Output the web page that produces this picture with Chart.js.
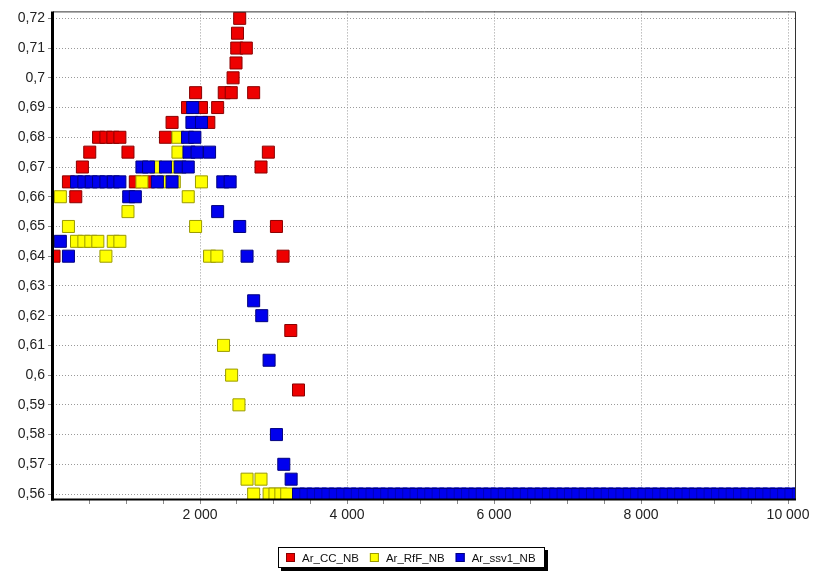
<!DOCTYPE html>
<html><head><meta charset="utf-8">
<script src="https://cdn.jsdelivr.net/npm/chart.js@4/dist/chart.umd.min.js"></script>
<style>html,body{margin:0;padding:0;background:#fff}#wrap{width:813px;height:574px;position:relative}</style>
</head><body><div id="wrap"><canvas id="c" width="813" height="574"></canvas></div>
<script>
const seriesNames = ['Ar_CC_NB', 'Ar_RfF_NB', 'Ar_ssv1_NB'];
const yTickValues = [0.56,0.57,0.58,0.59,0.60,0.61,0.62,0.63,0.64,0.65,0.66,0.67,0.68,0.69,0.70,0.71,0.72];
const xTickValues = [500,1000,1500,2000,2500,3000,3500,4000,4500,5000,5500,6000,6500,7000,7500,8000,8500,9000,9500,10000];
const xLabelValues = [2000,4000,6000,8000,10000];

const ccPoints = [
  [2540,0.72],[2510,0.715],[2500,0.71],[2630,0.71],[2490,0.705],[2450,0.70],
  [1940,0.695],[2330,0.695],[2425,0.695],[2730,0.695],
  [1830,0.69],[2020,0.69],[2240,0.69],
  [1620,0.685],[2120,0.685],
  [620,0.68],[720,0.68],[815,0.68],[910,0.68],[1530,0.68],
  [500,0.675],[1020,0.675],[2930,0.675],
  [400,0.67],[2830,0.67],
  [210,0.665],[1120,0.665],[1300,0.665],
  [310,0.66],[3040,0.65],[14,0.64],[3130,0.64],
  [3235,0.615],[3340,0.595]
];
const rffPoints = [
  [1700,0.68],[1700,0.675],[1400,0.67],[1680,0.67],
  [1210,0.665],[1500,0.665],[1650,0.665],[2020,0.665],
  [100,0.66],[1840,0.66],[1020,0.655],[210,0.65],[1940,0.65],
  [320,0.645],[420,0.645],[515,0.645],[610,0.645],[820,0.645],[910,0.645],
  [720,0.64],[2130,0.64],[2230,0.64],
  [2320,0.61],[2430,0.60],[2530,0.59],
  [2640,0.565],[2830,0.565],
  [2730,0.56],[2940,0.56],[3020,0.56],[3100,0.56],[3180,0.56]
];
const ssvPoints = [
  [1900,0.69],[1890,0.685],[2020,0.685],[1830,0.68],[1930,0.68],
  [1850,0.675],[1960,0.675],[2130,0.675],
  [1210,0.67],[1300,0.67],[1530,0.67],[1730,0.67],[1840,0.67],
  [320,0.665],[420,0.665],[520,0.665],[620,0.665],[720,0.665],[820,0.665],[910,0.665],
  [1420,0.665],[1620,0.665],[2310,0.665],[2410,0.665],
  [1030,0.66],[1120,0.66],[2240,0.655],[2540,0.65],[100,0.645],[210,0.64],[2640,0.64],
  [2730,0.625],[2840,0.62],[2940,0.605],[3040,0.58],[3140,0.57],[3240,0.565],
  [3340,0.56],[3440,0.56],[3540,0.56],[3640,0.56],[3740,0.56],[3840,0.56],[3940,0.56],
  [4040,0.56],[4140,0.56],[4240,0.56],[4340,0.56],[4440,0.56],[4540,0.56],[4640,0.56],
  [4740,0.56],[4840,0.56],[4940,0.56],[5040,0.56],[5140,0.56],[5240,0.56],[5340,0.56],
  [5440,0.56],[5540,0.56],[5640,0.56],[5740,0.56],[5840,0.56],[5940,0.56],[6040,0.56],
  [6140,0.56],[6240,0.56],[6340,0.56],[6440,0.56],[6540,0.56],[6640,0.56],[6740,0.56],
  [6840,0.56],[6940,0.56],[7040,0.56],[7140,0.56],[7240,0.56],[7340,0.56],[7440,0.56],
  [7540,0.56],[7640,0.56],[7740,0.56],[7840,0.56],[7940,0.56],[8040,0.56],[8140,0.56],
  [8240,0.56],[8340,0.56],[8440,0.56],[8540,0.56],[8640,0.56],[8740,0.56],[8840,0.56],
  [8940,0.56],[9040,0.56],[9140,0.56],[9240,0.56],[9340,0.56],[9440,0.56],[9540,0.56],
  [9640,0.56],[9740,0.56],[9840,0.56],[9940,0.56],[10040,0.56],[10140,0.56]
];

const fills = ['#ee0000', '#ffff00', '#0000ee'];
const edges = ['#8a0000', '#9a9a00', '#000080'];
const allPoints = [ccPoints, rffPoints, ssvPoints];

const FONT = "'Liberation Sans', Arial, sans-serif";

// within a continuous run of overlapping markers on the same level, soften the inner edge
function edgeFor(i) {
  return ctx => {
    const pts = allPoints[i];
    const k = ctx.dataIndex;
    if (i === 2 && k > 0 && pts[k][1] === 0.56 && pts[k - 1][1] === 0.56 && pts[k][0] - pts[k - 1][0] < 150 && pts[k][0] > 3300) {
      return '#0000b4';
    }
    return edges[i];
  };
}

const datasets = allPoints.map((pts, i) => ({
  label: seriesNames[i],
  data: pts.map(p => ({x: p[0], y: p[1]})),
  pointStyle: 'rect',
  pointRadius: 8.5,
  pointHoverRadius: 8.5,
  borderWidth: 1,
  backgroundColor: fills[i],
  borderColor: edges[i],
  pointBorderColor: edgeFor(i),
  showLine: false,
  clip: 0,
  order: 3 - i
}));

const framePlugin = {
  id: 'frame',
  afterDatasetsDraw(chart) {
    const {ctx, chartArea: a} = chart;
    const y56 = chart.scales.y.getPixelForValue(0.56);
    const x0 = chart.scales.x.getPixelForValue(3340);
    const x1 = a.right;
    ctx.save();
    // dark top/bottom edge of the continuous run at 0.56
    ctx.strokeStyle = '#000080';
    ctx.lineWidth = 1;
    ctx.beginPath();
    ctx.moveTo(x0 - 6, Math.round(y56 - 6) + 0.5); ctx.lineTo(x1, Math.round(y56 - 6) + 0.5);
    ctx.stroke();
    ctx.strokeStyle = '#333';
    ctx.beginPath();
    ctx.moveTo(a.left, a.top + 0.5); ctx.lineTo(a.right + 0.5, a.top + 0.5);
    ctx.lineTo(a.right + 0.5, a.bottom);
    ctx.stroke();
    ctx.strokeStyle = '#000';
    ctx.lineWidth = 3;
    ctx.beginPath();
    ctx.moveTo(a.left - 0.5, a.top); ctx.lineTo(a.left - 0.5, a.bottom + 1.5);
    ctx.stroke();
    ctx.lineWidth = 2;
    ctx.beginPath();
    ctx.moveTo(a.left - 2, a.bottom + 0.5); ctx.lineTo(a.right + 1, a.bottom + 0.5);
    ctx.stroke();
    ctx.restore();
  },
  afterDraw(chart) {
    const ctx = chart.ctx;
    const ds = chart.data.datasets;
    ctx.save();
    ctx.font = '11.5px ' + FONT;
    const sq = 9, gapSq = 7, gapItem = 11, padL = 8, padR = 9;
    let w = padL + padR;
    ds.forEach((d, i) => { w += sq + gapSq + ctx.measureText(d.label).width + (i < ds.length - 1 ? gapItem : 0); });
    w = Math.round(w);
    const cx = 411, top = 547, h = 21;
    const left = Math.round(cx - w / 2);
    ctx.fillStyle = '#000';
    ctx.fillRect(left + 3, top + 3, w, h);
    ctx.fillStyle = '#fff';
    ctx.fillRect(left, top, w, h);
    ctx.strokeStyle = '#000';
    ctx.lineWidth = 1;
    ctx.strokeRect(left + 0.5, top + 0.5, w - 1, h - 1);
    let x = left + padL;
    const cy = top + h / 2;
    ds.forEach((d, i) => {
      ctx.fillStyle = d.backgroundColor;
      ctx.fillRect(x, Math.round(cy - sq / 2), sq, sq);
      ctx.strokeStyle = d.borderColor;
      ctx.strokeRect(x + 0.5, Math.round(cy - sq / 2) + 0.5, sq - 1, sq - 1);
      x += sq + gapSq;
      ctx.fillStyle = '#111';
      ctx.textBaseline = 'middle';
      ctx.fillText(d.label, x, cy + 1);
      x += ctx.measureText(d.label).width + gapItem;
    });
    ctx.restore();
  }
};

const fmtNum = v => {
  const s = String(Math.round(v));
  return s.replace(/\B(?=(\d{3})+(?!\d))/g, ' ');
};

new Chart(document.getElementById('c'), {
  type: 'scatter',
  data: {datasets},
  plugins: [framePlugin],
  options: {
    responsive: false,
    animation: false,
    devicePixelRatio: 1,
    layout: {padding: {left: 0, right: 18, top: 8, bottom: 0}},
    plugins: {legend: {display: false}, tooltip: {enabled: false}},
    scales: {
      x: {
        type: 'linear', min: 0, max: 10095,
        afterBuildTicks: s => { s.ticks = xTickValues.map(v => ({value: v})); },
        afterFit: s => { s.height = 75; },
        ticks: {
          autoSkip: false, maxRotation: 0, padding: 3,
          color: '#222', font: {family: FONT, size: 14},
          callback: v => xLabelValues.includes(v) ? fmtNum(v) : ''
        },
        grid: {
          color: c => (c.tick && xLabelValues.includes(c.tick.value)) ? '#9a9a9a' : 'rgba(0,0,0,0)',
          tickColor: '#8a8a8a', tickLength: 5, lineWidth: 1
        },
        border: {display: false, dash: [1, 2]}
      },
      y: {
        type: 'linear', min: 0.55833, max: 0.72234,
        afterBuildTicks: s => { s.ticks = yTickValues.map(v => ({value: v})); },
        afterFit: s => { s.width = 53; },
        ticks: {
          autoSkip: false, padding: 3,
          color: '#222', font: {family: FONT, size: 14},
          callback: v => String(Number(v.toFixed(3))).replace('.', ',')
        },
        grid: {color: '#9a9a9a', tickColor: '#8a8a8a', tickLength: 5, lineWidth: 1},
        border: {display: false, dash: [1, 2]}
      }
    }
  }
});
</script></body></html>
